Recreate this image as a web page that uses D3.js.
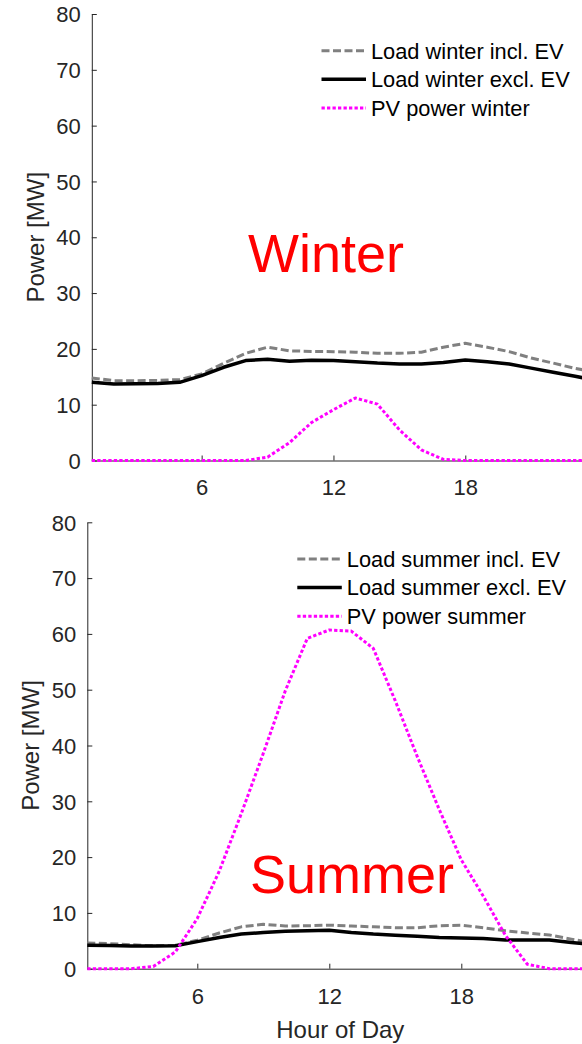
<!DOCTYPE html>
<html>
<head>
<meta charset="utf-8">
<script src="https://cdn.jsdelivr.net/npm/d3@7"></script>
<style>
  html, body { margin: 0; padding: 0; background: #fff; }
  svg { display: block; font-family: "Liberation Sans", Arial, Helvetica, sans-serif; }
</style>
</head>
<body>
<svg id="chart" width="582" height="1044"></svg>
<script>
// Hours of the day (1..24)
const hours = d3.range(1, 25);

// Winter profiles [MW]
const winterLoadInclEV = [14.8, 14.3, 14.3, 14.35, 14.5, 15.5, 17.4, 19.2, 20.3, 19.65, 19.55, 19.5,
                          19.4, 19.2, 19.2, 19.4, 20.3, 21.0, 20.3, 19.5, 18.35, 17.45, 16.5, 15.8];
const winterLoadExclEV = [14.0, 13.7, 13.75, 13.8, 14.0, 15.2, 16.7, 17.9, 18.15, 17.8, 17.95, 17.9,
                          17.7, 17.45, 17.3, 17.3, 17.55, 18.0, 17.7, 17.3, 16.55, 15.8, 15.1, 14.3];
const winterPV = [0, 0, 0, 0, 0, 0, 0, 0, 0.6, 3.2, 6.8, 9.1,
                  11.2, 10.1, 5.5, 1.9, 0.2, 0, 0, 0, 0, 0, 0, 0];

// Summer profiles [MW]
const summerLoadInclEV = [4.6, 4.5, 4.3, 4.1, 4.2, 5.1, 6.4, 7.5, 7.95, 7.65, 7.7, 7.8,
                          7.65, 7.5, 7.35, 7.35, 7.7, 7.8, 7.35, 6.8, 6.4, 6.05, 5.3, 4.6];
const summerLoadExclEV = [4.2, 4.15, 4.05, 4.05, 4.1, 4.85, 5.6, 6.2, 6.5, 6.7, 6.8, 6.9,
                          6.5, 6.2, 6.0, 5.8, 5.6, 5.5, 5.4, 5.15, 5.15, 5.15, 4.7, 4.3];
const summerPV = [0, 0, 0, 0.4, 3.0, 9.0, 17.5, 27.8, 38.6, 49.8, 59.2, 60.7,
                  60.5, 57.4, 48.0, 38.0, 28.5, 19.5, 13.0, 6.0, 0.8, 0, 0, 0];

// Axis ticks
const xTicks = [6, 12, 18];
const yTicks = [0, 10, 20, 30, 40, 50, 60, 70, 80];

const svg = d3.select("#chart");
const axisColor = "#262626";

const styles = {
  incl: { stroke: "#808080", width: 3, dash: "8,3.5" },
  excl: { stroke: "#000000", width: 3.5, dash: null },
  pv:   { stroke: "#ff00ff", width: 3, dash: "3.3,2.2" }
};

function drawPanel(cfg) {
  const x = d3.scaleLinear().domain([1, 24]).range([cfg.x0, cfg.x1]);
  const y = d3.scaleLinear().domain([0, 80]).range([cfg.y0, cfg.y1]);
  const g = svg.append("g");

  // Y axis (ticks pointing inward)
  const yAxis = g.append("g")
    .attr("transform", `translate(${cfg.x0},0)`)
    .call(d3.axisLeft(y).tickValues(yTicks).tickSize(-5).tickPadding(16).tickSizeOuter(0));
  // X axis
  const xAxis = g.append("g")
    .attr("transform", `translate(0,${cfg.y0})`)
    .call(d3.axisBottom(x).tickValues(xTicks).tickSize(-5).tickPadding(15).tickSizeOuter(0));

  [yAxis, xAxis].forEach(a => {
    a.select(".domain").attr("stroke", axisColor).attr("stroke-width", 1);
    a.selectAll(".tick line").attr("stroke", axisColor).attr("stroke-width", 1);
    a.selectAll(".tick text")
      .attr("fill", axisColor)
      .attr("font-size", 22)
      .attr("font-family", "Liberation Sans, Arial, sans-serif");
  });
  yAxis.selectAll(".tick text").attr("x", -11).attr("dy", "0.35em");
  xAxis.selectAll(".tick text").attr("dy", "0.72em").attr("y", 19);

  // Y label
  g.append("text")
    .attr("transform", `translate(${cfg.yLabelX},${(cfg.y0 + cfg.y1) / 2}) rotate(-90)`)
    .attr("text-anchor", "middle")
    .attr("font-size", 24)
    .attr("fill", axisColor)
    .text("Power [MW]");

  // Season title
  g.append("text")
    .attr("x", cfg.titleX)
    .attr("y", cfg.titleY)
    .attr("font-size", 54)
    .attr("fill", "#ff0000")
    .text(cfg.title);

  const line = d3.line().x((d, i) => x(hours[i])).y(d => y(d));
  cfg.series.forEach(s => {
    const st = styles[s.kind];
    g.append("path")
      .datum(s.values)
      .attr("d", line)
      .attr("fill", "none")
      .attr("stroke", st.stroke)
      .attr("stroke-width", st.width)
      .attr("stroke-dasharray", st.dash)
      .attr("stroke-linejoin", "round");
  });

  // Legend
  const leg = g.append("g");
  cfg.series.forEach((s, i) => {
    const st = styles[s.kind];
    const cy = cfg.legY + i * 28.6;
    leg.append("line")
      .attr("x1", cfg.legX).attr("x2", cfg.legX + 44.5)
      .attr("y1", cy).attr("y2", cy)
      .attr("stroke", st.stroke)
      .attr("stroke-width", st.width)
      .attr("stroke-dasharray", st.dash);
    leg.append("text")
      .attr("x", cfg.legX + 49.5)
      .attr("y", cy)
      .attr("dy", "0.36em")
      .attr("font-size", 21.8)
      .attr("fill", "#000")
      .text(s.label);
  });

  return { x, y, g };
}

drawPanel({
  x0: 91.8, x1: 597.1, y0: 460.5, y1: 14,
  yLabelX: 43.5,
  title: "Winter", titleX: 248, titleY: 272,
  legX: 321.5, legY: 50.7,
  series: [
    { kind: "incl", values: winterLoadInclEV, label: "Load winter incl. EV" },
    { kind: "excl", values: winterLoadExclEV, label: "Load winter excl. EV" },
    { kind: "pv",   values: winterPV,         label: "PV power winter" }
  ]
});

drawPanel({
  x0: 87.3, x1: 593.3, y0: 968.7, y1: 522.3,
  yLabelX: 39,
  title: "Summer", titleX: 250, titleY: 893,
  legX: 297.3, legY: 559,
  series: [
    { kind: "incl", values: summerLoadInclEV, label: "Load summer incl. EV" },
    { kind: "excl", values: summerLoadExclEV, label: "Load summer excl. EV" },
    { kind: "pv",   values: summerPV,         label: "PV power summer" }
  ]
});

// Shared x-axis label
svg.append("text")
  .attr("x", (87.3 + 593.3) / 2)
  .attr("y", 1038)
  .attr("text-anchor", "middle")
  .attr("font-size", 24)
  .attr("fill", axisColor)
  .text("Hour of Day");
</script>
</body>
</html>
